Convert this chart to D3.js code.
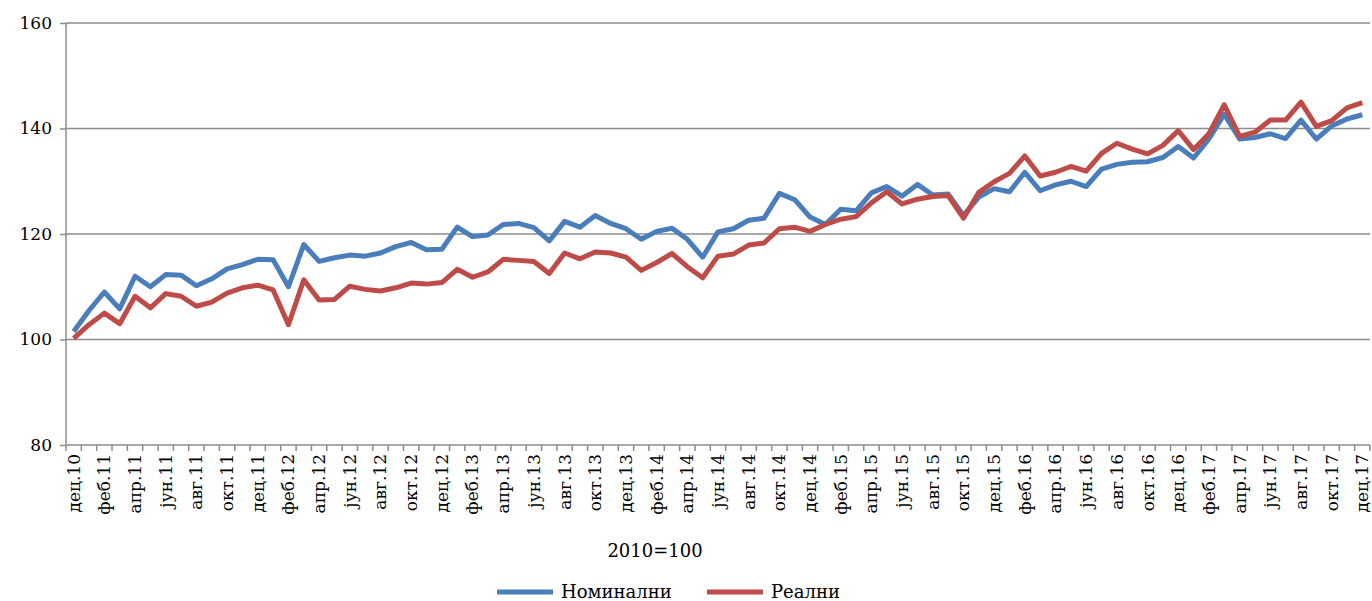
<!DOCTYPE html>
<html>
<head>
<meta charset="utf-8">
<script src="https://cdn.jsdelivr.net/npm/d3@7"></script>
<style>
  body { margin: 0; background: #fff; }
  svg { display: block; font-family: "DejaVu Serif", serif; }
  .grid line { stroke: #8c8c8c; stroke-width: 1.5; }
  .axis path, .axis line { stroke: #8c8c8c; stroke-width: 1.5; }
  .axis text { fill: #000; font-size: 17px; font-family: "DejaVu Serif", serif; }
  .series { fill: none; stroke-width: 5; stroke-linejoin: round; }
</style>
</head>
<body>
<svg id="chart" width="1372" height="601"></svg>
<script>
const monthNames = ["јан", "феб", "мар", "апр", "мај", "јун", "јул", "авг", "сеп", "окт", "нов", "дец"];

// дец.10 ... дец.17
const months = [];
for (let yr = 10; yr <= 17; yr++) {
  monthNames.forEach((m, i) => {
    if (yr === 10 && i < 11) return;
    months.push(m + "." + yr);
  });
}

const nominal = [
  101.5, 105.5, 109.0, 105.8, 112.0, 110.0, 112.3, 112.2, 110.2, 111.5, 113.4, 114.2, 115.2,
  115.1, 110.0, 118.0, 114.8, 115.5, 116.0, 115.8, 116.4, 117.6, 118.4, 117.0, 117.1,
  121.3, 119.5, 119.8, 121.8, 122.0, 121.2, 118.7, 122.4, 121.3, 123.5, 122.0, 121.0,
  119.0, 120.5, 121.1, 119.0, 115.6, 120.4, 121.0, 122.6, 123.0, 127.7, 126.5, 123.2,
  121.8, 124.7, 124.4, 127.8, 129.0, 127.2, 129.4, 127.4, 127.6, 123.5, 127.0, 128.6,
  128.0, 131.7, 128.2, 129.3, 130.0, 129.0, 132.3, 133.2, 133.6, 133.7, 134.5, 136.6,
  134.4, 138.0, 142.7, 138.0, 138.3, 139.0, 138.1, 141.6, 138.0, 140.5, 141.8, 142.6
];

const real = [
  100.2, 102.8, 105.0, 103.0, 108.2, 106.0, 108.7, 108.2, 106.3, 107.1, 108.8, 109.8, 110.3,
  109.4, 102.8, 111.3, 107.5, 107.6, 110.1, 109.5, 109.2, 109.8, 110.7, 110.5, 110.8,
  113.3, 111.8, 112.8, 115.2, 115.0, 114.8, 112.5, 116.4, 115.3, 116.6, 116.4, 115.6,
  113.1, 114.6, 116.3, 113.8, 111.7, 115.8, 116.2, 117.9, 118.3, 121.0, 121.3, 120.5,
  121.8, 122.8, 123.3, 125.9, 128.0, 125.7, 126.6, 127.1, 127.3, 123.0, 127.9, 129.9,
  131.5, 134.8, 131.0, 131.7, 132.8, 131.9, 135.3, 137.2, 136.1, 135.2, 136.8, 139.6,
  136.0, 139.0, 144.5, 138.5, 139.3, 141.6, 141.6, 145.0, 140.4, 141.5, 143.9, 144.9
];

const yTicks = [80, 100, 120, 140, 160];
const seriesNames = ["Номинални", "Реални"];
const seriesColors = ["#4a7ebb", "#be4b48"];
const subtitle = "2010=100";

const margin = {top: 23, right: 2, bottom: 156, left: 66};
const svg = d3.select("#chart");
const width = 1372 - margin.left - margin.right;
const height = 601 - margin.top - margin.bottom;

const x = d3.scaleBand().domain(months).range([0, width]).padding(0);
const y = d3.scaleLinear().domain([80, 160]).range([height, 0]);

const g = svg.append("g").attr("transform", "translate(" + margin.left + "," + margin.top + ")");

// gridlines
g.append("g").attr("class", "grid")
  .selectAll("line")
  .data(yTicks.filter(d => d > 80))
  .enter().append("line")
    .attr("x1", 0).attr("x2", width)
    .attr("y1", d => y(d)).attr("y2", d => y(d));

// y axis
const yAxis = g.append("g").attr("class", "axis")
  .call(d3.axisLeft(y).tickValues(yTicks).tickSize(6).tickPadding(8).tickFormat(d3.format("d")));
yAxis.select(".domain").attr("d", "M0," + height + "V0");

// x axis: labels every second month, tick marks on category borders
const xAxis = g.append("g").attr("class", "axis")
  .attr("transform", "translate(0," + height + ")")
  .call(d3.axisBottom(x).tickValues(months.filter((d, i) => i % 2 === 0)).tickSize(0).tickPadding(0));
xAxis.select(".domain").attr("d", "M0,0H" + width);
xAxis.selectAll(".tick text")
  .attr("transform", "rotate(-90)")
  .attr("x", -9)
  .attr("y", 0)
  .attr("dy", "0.35em")
  .style("text-anchor", "end");
xAxis.selectAll(".border")
  .data(months.concat(["end"]))
  .enter().append("line")
    .attr("class", "border")
    .attr("x1", (d, i) => i < months.length ? x(d) : width)
    .attr("x2", (d, i) => i < months.length ? x(d) : width)
    .attr("y1", 0).attr("y2", 6);

// lines
const line = d3.line()
  .x((d, i) => x(months[i]) + x.bandwidth() / 2)
  .y(d => y(d));

[nominal, real].forEach((data, k) => {
  g.append("path")
    .datum(data)
    .attr("class", "series")
    .attr("stroke", seriesColors[k])
    .attr("d", line);
});

// subtitle
svg.append("text")
  .attr("x", 655)
  .attr("y", 557)
  .attr("text-anchor", "middle")
  .style("font-size", "18px")
  .text(subtitle);

// legend
const legend = svg.append("g").style("font-size", "18px");
const legendX = [497, 707];
seriesNames.forEach((name, k) => {
  const item = legend.append("g").attr("transform", "translate(" + legendX[k] + ",592)");
  item.append("line")
    .attr("x1", 0).attr("x2", 56).attr("y1", 0).attr("y2", 0)
    .attr("stroke", seriesColors[k]).attr("stroke-width", 5);
  item.append("text")
    .attr("x", 64).attr("y", 0).attr("dy", "0.35em")
    .text(name);
});
</script>
</body>
</html>
